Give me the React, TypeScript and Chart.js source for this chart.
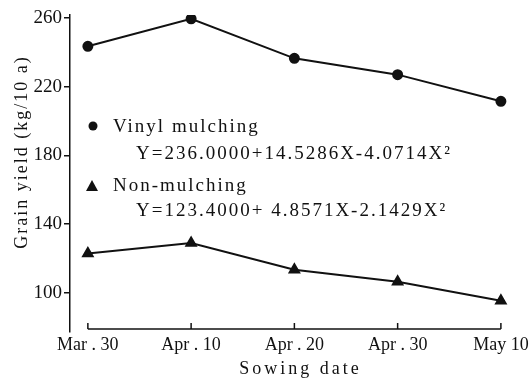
import React, { useEffect, useRef } from "react";
import { Chart, registerables } from "chart.js";

Chart.register(...registerables);

const sowingDates = ["Mar . 30", "Apr . 10", "Apr . 20", "Apr . 30", "May 10"];
const dateIndex = [0, 1, 2, 3, 4];
const vinylMulching = [243.5, 259.5, 236.5, 227, 211.5];
const nonMulching = [123, 129, 113.5, 106.5, 95.5];
const yTicks = [100, 140, 180, 220, 260];
const vinylLabel = "Vinyl mulching";
const vinylEq = "Y=236.0000+14.5286X-4.0714X²";
const nonLabel = "Non-mulching";
const nonEq = "Y=123.4000+ 4.8571X-2.1429X²";
const yTitle = "Grain yield (kg/10 a)";
const xTitle = "Sowing date";

const INK = "#111";
const SERIF = "'Liberation Serif', 'DejaVu Serif', serif";

const decor = {
  id: "decor",
  afterDraw(chart: any) {
    const ctx = chart.ctx as CanvasRenderingContext2D;
    const x = chart.scales.x;
    const a = chart.chartArea;
    ctx.save();
    ctx.strokeStyle = INK;
    ctx.fillStyle = INK;
    ctx.lineWidth = 1.5;
    // x bracket axis
    const yb = a.bottom - 3;
    ctx.beginPath();
    ctx.moveTo(x.getPixelForValue(0), yb);
    ctx.lineTo(x.getPixelForValue(4), yb);
    ctx.stroke();
    dateIndex.forEach((i) => {
      const px = x.getPixelForValue(i);
      ctx.beginPath();
      ctx.moveTo(px, yb);
      ctx.lineTo(px, yb - 6);
      ctx.stroke();
    });
    // titles
    (ctx as any).letterSpacing = "3px";
    ctx.font = `18px ${SERIF}`;
    ctx.textAlign = "center";
    ctx.textBaseline = "middle";
    ctx.fillText(xTitle, (a.left + a.right) / 2 + 10, 369);
    ctx.save();
    ctx.translate(22, 152);
    ctx.rotate(-Math.PI / 2);
    (ctx as any).letterSpacing = "2px";
    ctx.fillText(yTitle, 0, 0);
    ctx.restore();
    // legend
    ctx.textAlign = "left";
    ctx.font = `19px ${SERIF}`;
    (ctx as any).letterSpacing = "2px";
    ctx.beginPath();
    ctx.arc(93, 126, 4.5, 0, Math.PI * 2);
    ctx.fill();
    ctx.fillText(vinylLabel, 113, 127);
    ctx.fillText(vinylEq, 136, 154);
    ctx.beginPath();
    ctx.moveTo(92, 180);
    ctx.lineTo(98, 191);
    ctx.lineTo(86, 191);
    ctx.closePath();
    ctx.fill();
    ctx.fillText(nonLabel, 113, 186);
    ctx.fillText(nonEq, 136, 211);
    ctx.restore();
  },
};

export default function App() {
  const ref = useRef<HTMLCanvasElement | null>(null);
  useEffect(() => {
    document.body.style.margin = "0";
    const chart = new Chart(ref.current as HTMLCanvasElement, {
      type: "line",
      data: {
        datasets: [
          {
            label: vinylLabel,
            data: dateIndex.map((i) => ({ x: i, y: vinylMulching[i] })),
            borderColor: INK,
            backgroundColor: INK,
            borderWidth: 2,
            pointStyle: "circle",
            pointRadius: 4.5,
            tension: 0,
          },
          {
            label: nonLabel,
            data: dateIndex.map((i) => ({ x: i, y: nonMulching[i] })),
            borderColor: INK,
            backgroundColor: INK,
            borderWidth: 2,
            pointStyle: "triangle",
            pointRadius: 5.5,
            tension: 0,
          },
        ],
      },
      options: {
        animation: false,
        responsive: false,
        layout: { padding: { left: 30, right: 16, top: 15, bottom: 0 } },
        plugins: { legend: { display: false }, tooltip: { enabled: false } },
        scales: {
          x: {
            type: "linear",
            min: -0.173,
            max: 4.096,
            afterBuildTicks: (s: any) => {
              s.ticks = dateIndex.map((v) => ({ value: v }));
            },
            afterFit: (s: any) => {
              s.height = 51;
            },
            grid: { display: false, drawTicks: false },
            border: { display: false },
            ticks: {
              autoSkip: false,
              maxRotation: 0,
              padding: 2,
              color: INK,
              font: { family: SERIF, size: 18 },
              callback: (v: any) => sowingDates[v] ?? "",
            },
          },
          y: {
            min: 77.3,
            max: 261.7,
            afterBuildTicks: (s: any) => {
              s.ticks = yTicks.map((v) => ({ value: v }));
            },
            afterFit: (s: any) => {
              s.width = 40;
            },
            grid: { drawOnChartArea: false, drawTicks: true, tickLength: 6, color: INK, lineWidth: 1.5 },
            border: { display: true, color: INK, width: 1.5 },
            ticks: {
              padding: 2,
              color: INK,
              font: { family: SERIF, size: 19 },
            },
          },
        },
      },
      plugins: [decor],
    });
    return () => chart.destroy();
  }, []);
  return (
    <div style={{ position: "absolute", left: 0, top: 0, width: 531, height: 383, background: "#fff" }}>
      <canvas ref={ref} width={531} height={383} />
    </div>
  );
}
